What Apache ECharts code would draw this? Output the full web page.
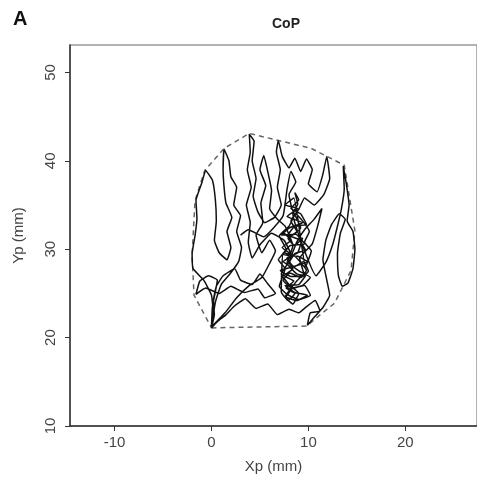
<!DOCTYPE html>
<html>
<head>
<meta charset="utf-8">
<script src="https://cdn.jsdelivr.net/npm/echarts@6/dist/echarts.min.js"></script>
<style>
  html, body { margin: 0; padding: 0; background: #fff; }
  #chart { width: 477px; height: 483px; }
</style>
</head>
<body>
<div id="chart"></div>
<script>
// tick labels
const xTicks = [-10, 0, 10, 20];
const yTicks = [10, 20, 30, 40, 50];

// CoP trajectory (Xp, Yp in mm), traced by eye
const copPath = [
  [8.2, 29.5], [7.5, 31.0], [6.2, 31.8], [5.0, 30.5], [4.2, 29.0], [3.8, 30.8], [4.0, 33.0], [3.6, 35.0],
  [4.1, 37.0], [3.7, 39.0], [4.0, 41.0], [3.9, 43.0], [4.4, 42.2], [4.2, 40.0], [4.6, 38.0], [4.3, 36.0],
  [4.8, 34.2], [5.5, 33.0], [6.5, 33.6], [7.2, 35.0],
  [6.8, 37.0], [7.1, 39.0], [6.7, 41.0], [6.9, 42.3], [7.3, 40.5], [8.0, 39.2], [8.6, 40.3], [9.2, 38.8],
  [9.8, 40.2], [10.4, 39.0], [10.0, 37.4], [10.9, 36.5], [11.5, 38.5], [11.9, 40.5], [12.2, 38.0], [11.6, 36.2],
  [10.6, 35.0], [9.6, 35.8], [9.0, 34.5],
  [8.2, 33.2], [8.8, 32.0], [7.9, 31.2], [8.6, 30.4], [9.4, 31.3], [8.9, 29.6], [7.8, 29.0], [8.5, 28.0],
  [9.5, 28.6], [10.0, 27.5], [9.2, 26.8], [8.1, 27.3], [7.4, 26.5], [8.3, 25.6], [9.6, 25.9], [10.2, 24.8],
  [9.0, 24.3], [7.8, 24.9], [7.0, 25.8], [7.6, 27.8], [6.9, 28.8], [7.7, 30.0], [7.0, 31.5], [8.0, 32.6],
  [8.7, 34.0], [9.4, 33.2], [10.1, 32.0], [9.6, 30.8], [10.3, 29.8], [9.7, 28.0],
  [8.5, 35.8], [7.6, 35.0], [8.9, 34.6], [7.8, 33.7], [9.4, 33.0], [8.0, 32.4], [7.2, 31.6], [8.7, 31.7],
  [9.6, 30.6], [8.1, 30.4], [7.4, 29.4], [8.9, 29.2], [9.9, 28.6], [8.4, 28.0], [7.1, 27.6], [8.2, 26.9],
  [9.7, 27.0], [9.0, 26.0], [7.6, 25.9], [8.6, 25.1], [9.9, 24.8], [8.8, 24.2], [7.7, 24.6], [8.3, 25.5],
  [9.4, 25.9], [10.2, 26.8], [9.1, 27.5], [8.0, 28.4], [8.6, 29.5], [9.7, 29.9], [9.0, 31.1], [7.9, 31.6],
  [8.6, 32.6], [9.8, 32.8], [9.2, 34.0], [8.2, 34.6], [9.0, 35.6], [8.6, 36.4], [8.9, 35.1], [8.4, 34.0],
  [10.8, 27.0], [11.8, 28.5], [12.5, 30.5], [13.0, 32.6], [13.4, 34.5], [13.7, 36.8], [13.6, 39.4], [13.9, 37.5],
  [14.2, 35.0], [14.0, 33.2], [14.6, 32.0], [14.8, 30.0], [14.6, 27.8], [14.1, 26.2], [13.5, 25.8], [13.1, 27.0],
  [13.0, 29.5], [13.3, 31.8], [13.8, 33.4], [13.2, 34.0], [12.4, 32.8], [11.8, 31.0], [11.5, 28.8], [11.9, 26.5],
  [12.2, 24.8], [11.5, 23.4], [10.6, 22.3], [9.9, 21.4], [10.2, 22.8], [11.2, 23.0], [10.7, 24.2], [9.8, 23.5],
  [9.0, 22.8],
  [8.0, 23.2], [6.8, 22.6], [5.8, 23.8], [4.6, 23.3], [3.5, 24.4], [2.4, 23.6], [1.5, 22.6], [0.6, 21.8],
  [0.0, 21.1], [0.3, 22.6], [0.2, 24.2], [0.5, 25.8], [1.2, 27.0], [2.4, 27.8], [3.0, 26.5], [4.2, 26.0],
  [5.0, 27.2], [5.8, 26.1], [6.6, 25.0], [5.5, 24.5], [4.8, 25.5], [3.4, 25.1], [2.0, 25.8], [0.8, 25.0],
  [-0.6, 25.6], [-1.6, 24.9], [-1.2, 26.4], [-0.3, 27.0], [0.6, 26.5], [0.1, 23.5], [0.0, 21.3],
  [0.2, 22.5], [0.0, 24.8], [-0.8, 26.5], [-1.9, 27.8], [-2.0, 29.5], [-1.7, 31.5], [-1.5, 33.5], [-1.6, 35.5],
  [-1.0, 37.5], [-0.6, 38.9], [0.1, 37.8], [0.4, 35.6], [0.5, 33.2], [0.3, 31.0], [0.8, 29.6], [1.6, 28.8],
  [2.0, 30.2], [1.6, 32.0], [2.1, 33.6], [1.5, 35.2], [1.3, 37.0], [1.2, 39.0], [1.3, 41.3], [1.8, 40.0],
  [2.0, 38.2], [2.6, 37.0], [2.3, 35.0], [3.0, 33.8], [2.6, 32.0], [3.1, 30.2], [2.8, 28.6], [1.9, 27.2],
  [1.0, 26.0], [0.4, 24.0], [0.0, 21.2],
  [1.4, 22.8], [2.6, 24.5], [3.8, 25.8], [5.2, 26.8], [6.0, 28.4], [6.6, 29.8], [6.0, 31.0], [5.2, 29.6],
  [4.6, 31.6], [5.3, 33.0], [5.1, 35.2], [5.6, 37.2], [5.0, 39.0], [5.4, 40.6], [5.8, 38.8], [6.2, 36.6],
  [6.0, 34.6], [6.8, 33.4], [7.6, 32.6], [8.4, 30.4], [7.8, 28.4], [8.8, 27.2], [9.6, 27.0], [9.1, 29.0],
  [10.4, 30.6], [11.0, 32.8], [11.4, 34.6], [10.6, 33.4], [9.6, 32.2], [8.8, 30.8], [8.0, 28.6], [7.2, 27.2],
  [8.0, 26.0], [9.0, 25.0], [8.4, 23.8], [7.6, 24.6], [8.8, 26.4], [9.8, 27.6], [8.6, 29.2], [7.4, 29.6],
  [7.2, 25.2], [7.9, 24.2], [8.6, 25.0], [7.7, 25.6], [8.5, 26.4], [7.5, 27.0], [8.4, 27.8], [7.4, 28.6],
  [8.3, 29.3], [7.3, 30.2], [8.2, 31.0], [7.5, 31.8],
  [8.1, 31.4], [9.2, 32.4], [8.3, 34.6], [8.0, 36.2], [8.7, 37.6], [8.2, 38.8], [7.8, 36.8], [7.4, 33.8],
  [6.4, 32.4], [5.4, 31.4], [3.8, 32.2], [3.0, 31.6]
];

// convex hull (dashed outline)
const hull = [
  [0.0, 21.1], [9.8, 21.3], [12.7, 23.9], [14.4, 27.6], [14.8, 32.1], [13.7, 39.5], [10.3, 41.4],
  [3.9, 43.1], [1.3, 41.4], [-0.7, 38.9], [-1.7, 35.5], [-2.0, 29.3], [-1.8, 24.8], [0.0, 21.1]
];

const chart = echarts.init(document.getElementById('chart'));

const axisText = { color: '#444', fontSize: 15, fontFamily: 'Liberation Sans, Arial, sans-serif' };

const option = {
  animation: false,
  title: [
    { text: 'A', left: 8, top: 4, textStyle: { fontSize: 20, fontWeight: 'bold', color: '#111', fontFamily: 'Liberation Sans, Arial' } },
    { text: 'CoP', left: 281, textAlign: 'center', top: 12, textStyle: { fontSize: 14, fontWeight: 'bold', color: '#222', fontFamily: 'Liberation Sans, Arial' } }
  ],
  grid: {
    left: 70, right: 0, top: 45, bottom: 57,
    show: true, borderColor: '#999', borderWidth: 1.5
  },
  xAxis: {
    type: 'value',
    min: -14.6, max: 27.4,
    name: 'Xp (mm)', nameLocation: 'middle', nameGap: 33,
    nameTextStyle: axisText,
    axisLine: { onZero: false, lineStyle: { color: '#333', width: 1.5 } },
    axisTick: { customValues: xTicks, length: 5, lineStyle: { color: '#333' } },
    axisLabel: { customValues: xTicks, margin: 9, ...axisText },
    splitLine: { show: false }
  },
  yAxis: {
    type: 'value',
    min: 10, max: 53.1,
    name: 'Yp (mm)', nameLocation: 'middle', nameGap: 44, nameRotate: 90,
    nameTextStyle: axisText,
    axisLine: { show: true, onZero: false, lineStyle: { color: '#333', width: 1.5 } },
    axisTick: { show: true, customValues: yTicks, length: 5, lineStyle: { color: '#333' } },
    axisLabel: { customValues: yTicks, rotate: 90, margin: 12, ...axisText },
    splitLine: { show: false }
  },
  series: [
    {
      type: 'line',
      data: hull,
      showSymbol: false,
      lineStyle: { color: '#666', width: 1.5, type: [5, 4] },
      z: 1
    },
    {
      type: 'line',
      data: copPath,
      showSymbol: false,
      smooth: 0.12,
      lineStyle: { color: '#111', width: 1.5 },
      z: 2
    }
  ]
};

chart.setOption(option);
</script>
</body>
</html>
